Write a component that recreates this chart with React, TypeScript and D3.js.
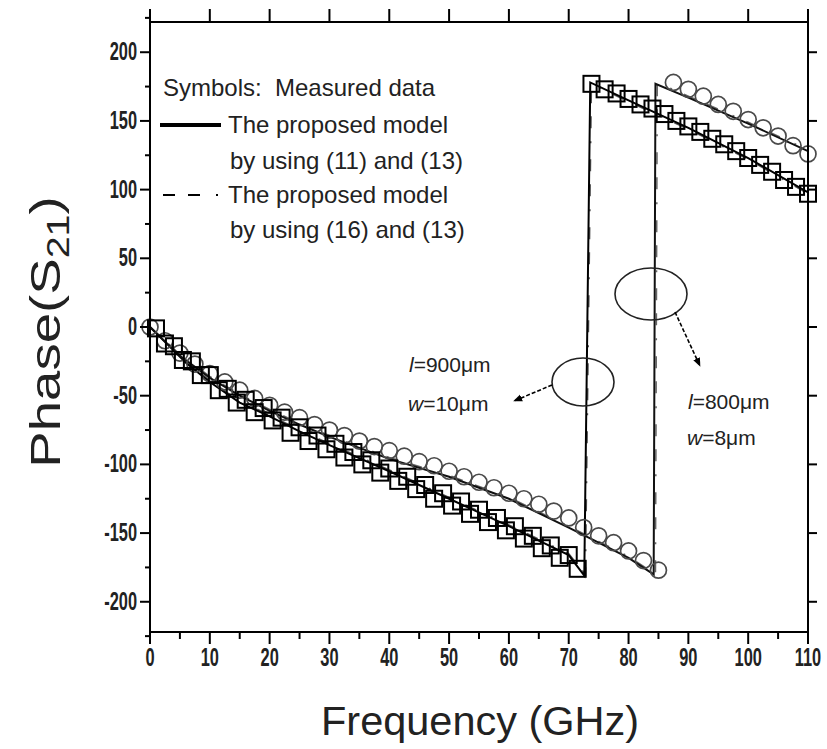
import React from "react";
import * as d3 from "d3";

// ---- data ----
const xTicks = [0, 10, 20, 30, 40, 50, 60, 70, 80, 90, 100, 110];
const yTicks = [-200, -150, -100, -50, 0, 50, 100, 150, 200];

// measured, l=900um w=10um (squares)
const sqLowF = [1, 2.5, 4, 5.5, 7, 8.5, 10, 11.5, 13, 14.5, 16, 17.5, 19, 20.5, 22, 23.5, 25, 26.5, 28, 29.5, 31, 32.5, 34, 35.5, 37, 38.5, 40, 41.5, 43, 44.5, 46, 47.5, 49, 50.5, 52, 53.5, 55, 56.5, 58, 59.5, 61, 62.5, 64, 65.5, 67, 68.5, 70, 71.5];
const sqLowP = [-1, -12, -14, -24, -25, -35, -35, -46, -45, -55, -53, -62, -59, -68, -66, -77, -73, -83, -79, -89, -85, -95, -91, -100, -97, -106, -103, -112, -109, -118, -115, -125, -121, -130, -127, -136, -133, -142, -139, -148, -145, -154, -152, -161, -159, -168, -166, -176];
const sqUpF = [73.8, 76, 78, 80, 82, 84, 86, 88, 90, 92, 94, 96, 98, 100, 102, 104, 106, 108, 110];
const sqUpP = [177, 173, 170, 166, 162, 159, 155, 150, 146, 142, 137, 133, 128, 123, 118, 113, 107, 102, 97];

// measured, l=800um w=8um (circles)
const ciLowF = [0, 2.5, 5, 7.5, 10, 12.5, 15, 17.5, 20, 22.5, 25, 27.5, 30, 32.5, 35, 37.5, 40, 42.5, 45, 47.5, 50, 52.5, 55, 57.5, 60, 62.5, 65, 67.5, 70, 72.5, 75, 77.5, 80, 82.5, 85];
const ciLowP = [0, -10, -19, -27, -34, -40, -46, -52, -57, -62, -66, -71, -75, -79, -83, -87, -90, -94, -98, -101, -105, -109, -113, -117, -121, -125, -129, -134, -139, -146, -152, -157, -163, -170, -177];
const ciUpF = [87.5, 90, 92.5, 95, 97.5, 100, 102.5, 105, 107.5, 110];
const ciUpP = [178, 173, 168, 162, 157, 151, 145, 139, 132, 126];

// model by (11) and (13) – solid
const m1SqF = [0, 3, 6, 10, 15, 20, 25, 30, 40, 50, 60, 70, 72.6, 73.6, 80, 90, 100, 110];
const m1SqP = [0, -13, -26, -40, -55, -65, -76, -86, -105, -125, -145, -166, -181, 178, 165, 145, 123, 98];
const m1CiF = [0, 5, 10, 15, 20, 25, 30, 40, 50, 60, 70, 75, 80, 84.2, 84.5, 90, 100, 110];
const m1CiP = [0, -21, -37, -50, -61, -71, -80, -96, -109, -125, -146, -157, -168, -180, 177, 167, 148, 128];

// model by (16) and (13) – dashed
const m2SqF = [0, 3, 6, 10, 15, 20, 25, 30, 40, 50, 60, 70, 72.8, 73.8, 80, 90, 100, 110];
const m2SqP = [0, -12, -25, -39, -54, -64, -75, -85, -104, -124, -144, -165, -180, 177, 164, 144, 122, 97];
const m2CiF = [0, 5, 10, 15, 20, 25, 30, 40, 50, 60, 70, 75, 80, 84.5, 84.8, 90, 100, 110];
const m2CiP = [0, -20, -36, -49, -60, -70, -79, -95, -108, -124, -145, -156, -167, -180, 178, 168, 149, 129];

const legendLines = [
  "Symbols:  Measured data",
  "The proposed model",
  "by using (11) and (13)",
  "The proposed model",
  "by using (16) and (13)",
];

const FONT = "Arial, 'Liberation Sans', sans-serif";

export default function App() {
  const W = 827, H = 749;
  const left = 150, right = 808, top = 22, bottom = 632;
  const x = d3.scaleLinear().domain([0, 110]).range([left, right]);
  const y = d3.scaleLinear().domain([-222, 222]).range([bottom, top]);

  const line = d3.line<[number, number]>().x((d) => x(d[0])).y((d) => y(d[1]));
  const zip = (a: number[], b: number[]) => a.map((v, i) => [v, b[i]] as [number, number]);

  const xMinor = d3.range(5, 110, 10);
  const yMinor = d3.range(-225, 226, 50);

  const sq = 16;
  const dashPat = "12,13,12,16,2,13";

  return (
    <svg width={W} height={H} style={{ position: "absolute", left: 0, top: 0, background: "#fff" }} fontFamily={FONT}>
      <defs>
        <marker id="ah" viewBox="0 0 10 10" refX="9" refY="5" markerWidth="9" markerHeight="9" orient="auto-start-reverse" markerUnits="userSpaceOnUse">
          <path d="M0,1 L10,5 L0,9 Z" fill="#000" />
        </marker>
      </defs>

      {/* model lines */}
      <path d={line(zip(m2SqF, m2SqP)) || ""} fill="none" stroke="#555" strokeWidth={1.5} strokeDasharray={dashPat} />
      <path d={line(zip(m2CiF, m2CiP)) || ""} fill="none" stroke="#666" strokeWidth={1.5} strokeDasharray={dashPat} />
      <path d={line(zip(m1SqF, m1SqP)) || ""} fill="none" stroke="#000" strokeWidth={2} />
      <path d={line(zip(m1CiF, m1CiP)) || ""} fill="none" stroke="#111" strokeWidth={2} />

      {/* circles */}
      {zip(ciLowF.concat(ciUpF), ciLowP.concat(ciUpP)).map((d, i) => (
        <circle key={"c" + i} cx={x(d[0])} cy={y(d[1])} r={8} fill="none" stroke="#4a4a4a" strokeWidth={1.7} />
      ))}
      {/* squares */}
      {zip(sqLowF.concat(sqUpF), sqLowP.concat(sqUpP)).map((d, i) => (
        <rect key={"s" + i} x={x(d[0]) - sq / 2} y={y(d[1]) - sq / 2} width={sq} height={sq} fill="none" stroke="#000" strokeWidth={2} />
      ))}

      {/* frame */}
      <rect x={left} y={top} width={right - left} height={bottom - top} fill="none" stroke="#000" strokeWidth={2} />

      {/* x ticks */}
      {xTicks.map((t) => (
        <g key={"xt" + t}>
          <line x1={x(t)} x2={x(t)} y1={bottom} y2={bottom + 12} stroke="#000" strokeWidth={2} />
          <line x1={x(t)} x2={x(t)} y1={top} y2={top - 13} stroke="#000" strokeWidth={2} />
          <text transform={`translate(${x(t)},${bottom + 34}) scale(0.78,1.25)`} textAnchor="middle" fontSize={21} fontWeight="bold" fill="#222">
            {t}
          </text>
        </g>
      ))}
      {xMinor.map((t) => (
        <line key={"xm" + t} x1={x(t)} x2={x(t)} y1={bottom} y2={bottom + 7} stroke="#000" strokeWidth={2} />
      ))}

      {/* y ticks */}
      {yTicks.map((t) => (
        <g key={"yt" + t}>
          <line x1={left} x2={left - 10} y1={y(t)} y2={y(t)} stroke="#000" strokeWidth={2} />
          <line x1={right} x2={right + 9} y1={y(t)} y2={y(t)} stroke="#000" strokeWidth={2} />
          <text transform={`translate(${left - 13},${y(t) + 8}) scale(0.78,1.2)`} textAnchor="end" fontSize={21} fontWeight="bold" fill="#222">
            {t}
          </text>
        </g>
      ))}
      {yMinor.map((t) => (
        <line key={"ym" + t} x1={left} x2={left - 5} y1={y(t)} y2={y(t)} stroke="#000" strokeWidth={2} />
      ))}

      {/* axis titles */}
      <text x={480} y={735} textAnchor="middle" fontSize={41} fill="#222" textLength={318} lengthAdjust="spacingAndGlyphs">Frequency (GHz)</text>
      <text transform={`translate(60,${332}) rotate(-90) scale(1.27,1)`} textAnchor="middle" fontSize={43} fill="#222">
        Phase(S<tspan fontSize={31} dy={9}>21</tspan><tspan dy={-9}>)</tspan>
      </text>

      {/* legend */}
      <text x={163} y={96} fontSize={24} fill="#222" style={{ whiteSpace: "pre" }} xmlSpace="preserve">{legendLines[0]}</text>
      <line x1={160} x2={221} y1={125} y2={125} stroke="#000" strokeWidth={4} />
      <text x={228} y={133} fontSize={24} fill="#222">{legendLines[1]}</text>
      <text x={230} y={169} fontSize={24} fill="#222">{legendLines[2]}</text>
      <line x1={163} x2={219} y1={195} y2={195} stroke="#000" strokeWidth={2} strokeDasharray="12,13,12,16,2,100" />
      <text x={228} y={203} fontSize={24} fill="#222">{legendLines[3]}</text>
      <text x={230} y={238} fontSize={24} fill="#222">{legendLines[4]}</text>

      {/* annotations */}
      <ellipse cx={583} cy={382} rx={31} ry={24} fill="none" stroke="#222" strokeWidth={1.6} />
      <line x1={552} x2={514} y1={385} y2={401} stroke="#000" strokeWidth={1.6} strokeDasharray="4,2" markerEnd="url(#ah)" />
      <ellipse cx={651} cy={294} rx={36} ry={26} fill="none" stroke="#222" strokeWidth={1.6} />
      <line x1={675} x2={700} y1={312} y2={366} stroke="#000" strokeWidth={1.6} strokeDasharray="4,2" markerEnd="url(#ah)" />

      <text x={409} y={372} fontSize={21} fill="#222"><tspan fontStyle="italic">l</tspan>=900μm</text>
      <text x={408} y={411} fontSize={21} fill="#222"><tspan fontStyle="italic">w</tspan>=10μm</text>
      <text x={688} y={409} fontSize={21} fill="#222"><tspan fontStyle="italic">l</tspan>=800μm</text>
      <text x={687} y={445} fontSize={21} fill="#222"><tspan fontStyle="italic">w</tspan>=8μm</text>
    </svg>
  );
}
